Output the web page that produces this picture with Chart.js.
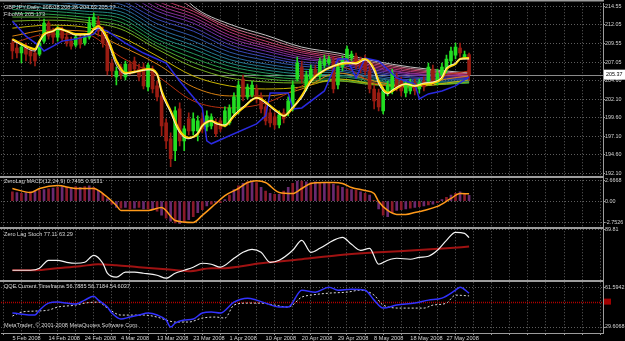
<!DOCTYPE html>
<html>
<head>
<meta charset="utf-8">
<script src="https://cdn.jsdelivr.net/npm/chart.js@4.4.0/dist/chart.umd.min.js"></script>
<style>
  html, body { margin: 0; padding: 0; background: #000; }
</style>
</head>
<body>
<canvas id="chart" width="625" height="341"></canvas>
<script>
// GBPJPY daily bars, 5 Feb 2008 .. 2 Jun 2008 (broker has Sunday bars, 8 bars per date label)
const dateLabels = ["5 Feb 2008", "14 Feb 2008", "24 Feb 2008", "4 Mar 2008", "13 Mar 2008", "23 Mar 2008",
  "1 Apr 2008", "10 Apr 2008", "20 Apr 2008", "29 Apr 2008", "8 May 2008", "18 May 2008", "27 May 2008"];
const priceTicks = [214.55, 212.05, 209.55, 207.05, 204.60, 202.10, 199.60, 197.10, 194.60, 192.10];
const macdTicks = [2.6668, 0, -2.7526];
const stochTicks = [89.81];
const qqeTicks = [61.5942, 29.6068];
const qqeLevel = 50;

const paneTitles = ["GBPJPY,Daily  208.08 208.26 204.63 205.37", "FiboMA 205.173",
  "ZeroLag MACD(12,24,9) 0.7495 0.9531", "Zero Lag Stoch 77.11 63.29",
  "QQE Current Timeframe 56.7885 56.7184 54.6037"];
const copyright = "MetaTrader, \u00a9 2001-2008 MetaQuotes Software Corp.";

const opens = [209.60, 208.94, 208.27, 209.07, 208.54, 208.27, 208.13, 209.87, 212.28, 211.21,
  210.41, 211.48, 210.41, 209.87, 209.34, 210.41, 209.60, 210.41, 211.88, 212.55,
  211.21, 210.14, 206.93, 205.06, 206.40, 205.06, 206.80, 207.20, 206.13, 206.40,
  203.72, 206.13, 203.86, 202.52, 198.91, 196.77, 195.17, 200.78, 196.50, 199.44,
  197.84, 197.84, 199.44, 198.37, 198.51, 198.91, 199.18, 198.64, 198.91, 200.25,
  200.51, 204.79, 202.39, 202.65, 203.45, 202.39, 201.05, 200.25, 199.71, 198.64,
  200.25, 200.25, 200.78, 204.79, 206.40, 203.45, 204.79, 206.13, 205.19, 206.66,
  206.93, 207.20, 203.99, 206.40, 207.47, 207.60, 207.87, 207.20, 207.47, 205.86,
  203.45, 202.92, 200.51, 202.92, 203.19, 205.06, 204.52, 202.92, 203.19, 204.26,
  203.45, 204.52, 204.52, 206.13, 204.52, 205.33, 206.13, 207.20, 208.00, 208.94,
  207.73, 208.08];
const highs = [210.14, 209.47, 209.34, 209.60, 209.07, 208.80, 209.87, 212.81, 212.55, 211.61,
  211.88, 211.74, 210.94, 210.41, 210.67, 210.81, 210.81, 213.08, 213.62, 213.21,
  211.74, 210.81, 207.47, 206.40, 206.80, 207.20, 207.20, 207.73, 206.80, 206.93,
  206.93, 206.53, 204.52, 203.19, 199.44, 197.57, 201.05, 201.58, 198.51, 200.25,
  200.25, 199.84, 200.25, 200.51, 200.11, 199.44, 199.58, 201.05, 201.31, 202.92,
  204.52, 205.33, 204.12, 204.52, 203.99, 202.92, 201.58, 200.78, 200.25, 200.51,
  200.78, 202.39, 204.52, 207.73, 207.20, 205.86, 206.66, 206.66, 207.60, 208.00,
  207.87, 207.73, 206.93, 207.87, 209.20, 208.54, 208.27, 207.73, 208.00, 206.53,
  203.99, 203.45, 203.72, 204.52, 206.13, 205.59, 205.06, 204.52, 204.79, 204.79,
  204.79, 205.06, 206.93, 206.66, 206.13, 206.93, 208.00, 209.07, 209.60, 209.60,
  208.54, 208.26];
const lows = [207.47, 207.60, 206.93, 207.20, 206.80, 206.53, 207.87, 209.60, 210.14, 209.60,
  209.87, 209.87, 209.20, 208.80, 209.07, 208.94, 209.34, 210.14, 211.48, 210.54,
  209.07, 205.33, 205.06, 203.99, 204.79, 204.66, 205.33, 205.59, 204.52, 203.45,
  203.19, 202.92, 201.85, 197.17, 195.43, 193.03, 193.83, 195.83, 195.17, 197.30,
  197.30, 196.50, 197.57, 197.84, 198.11, 197.04, 197.71, 198.37, 198.64, 199.84,
  200.11, 201.85, 202.12, 202.39, 201.58, 200.25, 198.64, 198.37, 198.11, 198.24,
  198.91, 199.84, 200.51, 204.52, 204.26, 203.19, 204.52, 204.79, 204.79, 206.26,
  206.66, 202.92, 203.45, 205.86, 207.20, 207.20, 206.13, 205.59, 205.33, 202.92,
  200.78, 200.51, 200.11, 202.52, 202.79, 203.19, 202.52, 202.39, 202.79, 202.65,
  202.92, 203.19, 203.99, 203.99, 203.99, 204.79, 205.59, 206.66, 207.47, 207.73,
  207.47, 204.63];
const closes = [208.54, 208.27, 209.07, 208.13, 207.87, 207.20, 209.60, 212.28, 210.54, 210.41,
  211.48, 210.27, 209.60, 209.20, 210.41, 209.47, 210.41, 212.28, 213.08, 211.21,
  209.60, 205.86, 205.86, 205.86, 205.33, 206.80, 205.86, 206.13, 205.06, 203.86,
  206.66, 203.45, 202.39, 198.51, 196.50, 194.10, 200.51, 196.50, 198.11, 197.84,
  199.44, 199.18, 198.11, 199.84, 199.71, 197.44, 198.11, 200.51, 200.91, 202.39,
  203.99, 202.39, 203.72, 203.99, 202.12, 200.78, 199.18, 198.91, 198.64, 199.98,
  199.44, 201.85, 203.99, 206.93, 204.79, 205.33, 206.13, 205.19, 207.20, 207.47,
  207.47, 203.45, 206.40, 207.47, 208.80, 208.13, 206.66, 206.13, 205.86, 203.45,
  201.85, 201.05, 203.19, 203.99, 205.59, 203.72, 203.19, 203.99, 204.26, 203.19,
  204.26, 203.72, 206.40, 204.52, 205.59, 206.40, 207.47, 208.54, 209.07, 208.27,
  208.08, 205.37];

// Fibo MA ribbon, read every 8 bars (slowest first)
const ribbonIdx = [0, 8, 16, 24, 32, 40, 48, 56, 64, 72, 80, 88, 96, 101];
const fibo1 = [225.92, 224.58, 223.24, 221.91, 219.90, 214.55, 212.15, 210.67, 209.07, 208.27, 207.20, 206.40, 205.86, 205.59];
const fibo1a = [224.60, 223.20, 222.00, 220.90, 217.90, 214.20, 211.80, 210.30, 208.80, 208.00, 207.00, 206.20, 205.70, 205.50];
const fibo2 = [223.24, 221.91, 220.84, 219.90, 215.89, 213.88, 211.48, 209.87, 208.54, 207.73, 206.80, 206.00, 205.59, 205.46];
const fibo2a = [222.20, 220.90, 219.90, 219.00, 215.30, 213.50, 211.10, 209.50, 208.30, 207.50, 206.60, 205.80, 205.50, 205.30];
const fibo3 = [221.24, 219.90, 218.96, 218.16, 214.82, 213.08, 210.67, 209.20, 208.00, 207.33, 206.40, 205.59, 205.33, 205.19];
const fibo3a = [220.20, 219.00, 218.20, 217.40, 214.30, 212.70, 210.30, 208.90, 207.70, 207.10, 206.20, 205.50, 205.20, 205.10];
const fibo4 = [219.23, 218.16, 217.36, 216.56, 213.88, 212.28, 209.87, 208.54, 207.47, 206.93, 206.00, 205.33, 205.06, 204.93];
const fibo4a = [218.20, 217.40, 216.60, 215.90, 213.30, 211.70, 209.40, 208.10, 207.10, 206.70, 205.80, 205.10, 204.90, 204.90];
const fibo5 = [217.23, 216.56, 215.89, 215.22, 212.81, 211.21, 208.94, 207.73, 206.80, 206.40, 205.59, 204.93, 204.79, 204.79];
const fibo5a = [216.40, 215.90, 215.30, 214.80, 212.20, 210.50, 208.40, 207.30, 206.50, 206.10, 205.30, 204.70, 204.70, 204.70];
const fibo6 = [215.62, 215.22, 214.69, 214.28, 211.61, 209.87, 207.87, 206.80, 206.13, 205.86, 205.06, 204.52, 204.52, 204.52];
const fibo6a = [215.10, 214.80, 214.30, 213.80, 211.10, 209.30, 207.40, 206.40, 205.80, 205.60, 204.90, 204.40, 204.40, 204.50];
const fibo7 = [214.55, 214.28, 213.88, 213.35, 210.54, 208.80, 206.93, 206.00, 205.46, 205.33, 204.66, 204.26, 204.26, 204.39];
const fibo7a = [214.10, 213.90, 213.50, 212.90, 210.10, 208.20, 206.50, 205.60, 205.10, 205.10, 204.50, 204.10, 204.20, 204.30];
const fibo8 = [213.62, 213.48, 213.08, 212.41, 209.60, 207.60, 206.00, 205.19, 204.79, 204.79, 204.26, 203.99, 204.12, 204.26];
const fibo8a = [213.10, 213.10, 212.70, 211.90, 209.20, 207.00, 205.50, 204.80, 204.50, 204.60, 204.10, 203.90, 204.10, 204.30];
const fibo9 = [212.55, 212.68, 212.41, 211.48, 208.80, 206.40, 204.93, 204.39, 204.26, 204.52, 203.99, 203.86, 204.12, 204.39];
const fibo10 = [211.61, 212.01, 211.74, 210.41, 207.87, 205.19, 203.86, 203.45, 203.72, 204.79, 204.12, 203.72, 204.26, 204.66];
const fibo11 = [210.54, 211.34, 211.21, 209.20, 206.80, 203.72, 202.52, 202.52, 203.45, 205.59, 204.52, 203.72, 204.79, 205.19];
const fibo12 = [209.60, 210.81, 210.81, 207.73, 205.19, 201.85, 200.91, 201.58, 203.86, 206.53, 204.26, 203.59, 205.33, 205.86];

// fast averages on the price pane
const fastIdx = [0, 2, 4, 5, 6, 7, 9, 10, 12, 14, 17, 18, 19, 21, 23, 25, 28, 30, 32, 33,
  35, 37, 39, 41, 42, 44, 45, 47, 49, 51, 54, 55, 57, 59, 60, 62, 64, 66, 68, 71,
  74, 76, 78, 80, 81, 83, 84, 87, 89, 91, 93, 95, 96, 98, 99, 101];
const yellowMa = [210.14, 209.47, 208.94, 208.80, 209.87, 210.81, 211.21, 211.61, 211.21, 210.81,
  210.81, 211.48, 211.88, 210.27, 207.20, 205.59, 205.86, 206.13, 205.46, 203.19,
  200.51, 197.84, 196.90, 197.44, 198.51, 199.18, 198.91, 198.51, 199.84, 200.91,
  202.25, 202.12, 201.18, 200.25, 199.84, 200.91, 202.52, 204.52, 205.59, 206.53,
  206.93, 206.93, 207.47, 206.13, 204.52, 202.92, 203.19, 204.12, 203.86, 204.12,
  204.26, 204.93, 206.13, 206.80, 207.47, 207.60];
const whiteMa = [210.01, 209.34, 208.67, 208.54, 209.74, 210.67, 211.21, 211.48, 211.21, 210.67,
  210.81, 211.34, 211.61, 209.87, 206.66, 205.46, 205.86, 206.00, 205.33, 202.92,
  200.25, 197.57, 196.77, 197.57, 198.51, 199.18, 198.78, 198.64, 199.98, 201.05,
  202.25, 201.98, 201.05, 200.11, 199.84, 201.05, 202.25, 204.39, 205.59, 206.53,
  207.07, 206.80, 207.33, 205.86, 204.12, 202.79, 203.32, 204.12, 203.86, 204.26,
  204.39, 205.06, 206.26, 206.93, 207.47, 207.47];
const blueIdx = [0, 3, 6, 7, 9, 11, 14, 18, 19, 21, 25, 29, 34, 37, 42, 43, 44, 48, 54, 56,
  57, 61, 62, 64, 69, 72, 74, 76, 78, 81, 85, 89, 90, 92, 95, 98, 101];
const blueMa = [212.55, 210.54, 209.20, 208.54, 209.20, 209.87, 210.14, 210.81, 211.61, 211.21,
  209.60, 208.27, 206.93, 204.52, 200.91, 196.50, 196.10, 197.17, 198.77, 199.84,
  202.92, 202.92, 200.78, 200.91, 203.19, 207.47, 207.47, 204.93, 207.60, 207.20,
  204.93, 204.12, 202.12, 202.79, 203.19, 203.86, 205.06];

// ZeroLag MACD
const macdHist = [1.2, 1.1, 1.0, 1.1, 1.2, 1.3, 1.4, 1.5, 1.6, 1.7,
  1.8, 1.9, 1.8, 1.8, 1.9, 1.8, 1.9, 2.0, 1.8, 1.4,
  1.0, 0.3, -0.4, -0.8, -0.9, -0.8, -1.0, -0.9, -0.8, -1.0,
  -1.0, -1.1, -1.3, -1.8, -2.2, -2.6, -2.8, -2.9, -2.7, -2.4,
  -2.0, -1.5, -1.1, -0.6, -0.4, -0.2, -0.2, 0.2, 0.8, 1.5,
  2.0, 2.3, 2.5, 2.6, 2.4, 1.8, 1.3, 1.0, 0.9, 0.9,
  1.3, 1.8, 2.3, 2.6, 2.6, 2.5, 2.4, 2.5, 2.4, 2.3,
  2.4, 2.2, 2.0, 1.8, 1.6, 1.5, 1.4, 1.2, 1.0, 0.8,
  0.1, -1.0, -1.8, -2.0, -1.5, -1.2, -1.1, -1.0, -0.9, -0.8,
  -0.7, -0.6, -0.5, -0.4, -0.2, 0.2, 0.5, 0.8, 1.0, 1.2,
  1.0, 0.75];
const signalIdx = [0, 4, 6, 10, 14, 18, 20, 23, 24, 30, 33, 36, 40, 42, 45, 47, 50, 52, 54, 56,
  59, 62, 64, 66, 69, 71, 73, 75, 78, 80, 81, 83, 85, 87, 89, 91, 94, 97, 99, 101];
const macdSignal = [1.64, 1.12, 1.64, 2.02, 1.64, 1.64, 0.99, -0.55, -1.20, -1.20,
  -0.81, -2.49, -2.75, -1.84, -0.30, 0.73, 1.64, 2.41, 2.65, 2.41,
  1.12, 0.99, 1.64, 2.28, 2.41, 2.41, 2.28, 1.77, 1.38, 0.99,
  -0.04, -1.20, -1.71, -1.71, -1.46, -1.20, -0.68, 0.35, 0.99, 0.95];

// Zero Lag Stoch
const stochIdx = [0, 4, 6, 8, 10, 12, 14, 16, 18, 20, 21, 23, 25, 27, 29, 32, 34, 36, 38, 40,
  42, 44, 46, 49, 51, 53, 55, 57, 59, 62, 64, 66, 68, 71, 73, 75, 77, 79, 81, 83,
  85, 88, 90, 92, 94, 96, 98, 100, 101];
const stochMain = [26.7, 26.7, 29.8, 42.1, 42.1, 39.0, 37.5, 39.0, 49.8, 37.5, 22.1, 16.0, 23.7, 23.7, 22.1, 19.0, 14.4, 22.1, 26.7, 31.4,
  37.5, 36.0, 31.4, 45.2, 54.4, 59.0, 54.4, 39.0, 42.1, 57.5, 72.9, 54.4, 60.6, 72.9, 77.5, 66.7, 57.5, 60.6, 36.0, 42.1,
  45.2, 43.7, 46.7, 48.3, 57.5, 72.9, 85.2, 83.7, 77.11];
const stochSigIdx = [0, 5, 10, 15, 19, 23, 28, 34, 39, 44, 46, 55, 64, 72, 81, 89, 96, 101];
const stochSignal = [26.7, 26.7, 29.8, 32.9, 36.0, 34.4, 31.4, 28.3, 25.2, 29.8, 29.8, 37.5, 43.7, 49.8, 54.4, 57.5, 60.6, 63.29];

// QQE
const qqeIdx = [0, 5, 6, 8, 10, 12, 14, 16, 18, 19, 21, 22, 24, 26, 28, 30, 32, 34, 35, 36,
  38, 40, 42, 44, 46, 49, 52, 54, 56, 59, 61, 64, 67, 70, 72, 75, 78, 80, 82, 85,
  89, 92, 95, 98, 99, 101];
const qqeRsi = [40.8, 39.2, 43.2, 48.8, 49.6, 48.8, 48.0, 51.2, 54.4, 51.2, 45.6, 40.8, 36.0, 37.6, 39.2, 40.8, 39.2, 35.2, 29.6, 32.8,
  35.2, 36.0, 40.8, 41.6, 40.8, 49.6, 52.8, 51.2, 48.8, 45.6, 45.6, 59.2, 57.6, 61.6, 59.2, 60.0, 59.2, 51.2, 44.8, 47.2,
  48.8, 51.2, 52.8, 59.2, 61.59, 56.79];
const qqeTrailIdx = [0, 2, 5, 8, 10, 14, 16, 19, 21, 24, 27, 29, 32, 34, 36, 39, 42, 45, 47, 49,
  52, 55, 58, 61, 64, 66, 70, 74, 77, 80, 82, 86, 91, 93, 96, 98, 101];
const qqeTrail = [38.4, 41.6, 42.4, 43.2, 45.6, 47.2, 48.8, 49.6, 44.8, 39.2, 39.2, 39.2, 37.6, 35.2, 33.6, 33.6, 36.8, 37.6, 36.8, 47.2,
  48.8, 48.8, 47.2, 45.6, 53.6, 55.2, 56.8, 57.6, 59.2, 55.2, 47.2, 44.8, 44.8, 47.2, 48.8, 55.2, 54.60];

// ---------------------------------------------------------------
const UP = "#22dd22";
const DOWN = "#9a1c12";
const GRID = "#5e5e5e";
const TEXT = "#d4d4d4";
const FRAME = "#9c9c9c";

Chart.defaults.font.family = '"Liberation Sans", Arial, sans-serif';
Chart.defaults.font.size = 5.6;
Chart.defaults.color = TEXT;

const pts = (idx, vals) => idx.map((x, k) => ({ x: x, y: vals[k] }));
const candleColor = closes.map((c, i) => (c >= opens[i] ? UP : DOWN));

function line(data, color, width, yAxisID, order, extra) {
  return Object.assign({
    type: "line", data: data, borderColor: color, borderWidth: width,
    pointRadius: 0, fill: false, yAxisID: yAxisID, order: order,
    cubicInterpolationMode: "monotone"
  }, extra || {});
}

const ribbon = [
  [fibo1, "#c4c4c4"], [fibo1a, "#c87a90"], [fibo2, "#c8406a"], [fibo2a, "#b43878"],
  [fibo3, "#a0308a"], [fibo3a, "#883098"], [fibo4, "#7030a8"], [fibo4a, "#5040b0"],
  [fibo5, "#3848b8"], [fibo5a, "#3058a8"], [fibo6, "#2a6aa0"], [fibo6a, "#257a90"],
  [fibo7, "#208a80"], [fibo7a, "#249560"], [fibo8, "#28a048"], [fibo8a, "#50a834"],
  [fibo9, "#78b020"], [fibo10, "#c8b400"], [fibo11, "#d88010"], [fibo12, "#b83010"]
];

const datasets = [];
ribbon.forEach(([vals, color], k) => {
  datasets.push(line(pts(ribbonIdx, vals), color, 1, "y", 60 - k));
});
datasets.push({
  type: "bar", data: closes.map((c, i) => ({ x: i, y: [lows[i], highs[i]] })),
  backgroundColor: candleColor, barThickness: 1, grouped: false, yAxisID: "y", order: 12
});
datasets.push({
  type: "bar", data: closes.map((c, i) => ({ x: i, y: [Math.min(opens[i], c), Math.max(opens[i], c)] })),
  backgroundColor: candleColor, barThickness: 3, minBarLength: 1, grouped: false, yAxisID: "y", order: 11
});
datasets.push(line(pts(blueIdx, blueMa), "#2a2ae0", 1.5, "y", 5, { cubicInterpolationMode: "default", tension: 0 }));
datasets.push(line(pts(fastIdx, yellowMa), "#ffd400", 2.2, "y", 4));
datasets.push(line(pts(fastIdx, whiteMa), "#ffffff", 0.8, "y", 3));

datasets.push({
  type: "bar", data: macdHist.map((v, i) => ({ x: i, y: v })),
  backgroundColor: macdHist.map((v, i) => (i % 2 ? "#6a2a70" : "#8a1a2a")),
  barThickness: 2, grouped: false, yAxisID: "macd", order: 10
});
datasets.push(line(pts(signalIdx, macdSignal), "#ff9a1a", 1.5, "macd", 2));

datasets.push(line(pts(stochSigIdx, stochSignal), "#a01212", 2, "stoch", 3));
datasets.push(line(pts(stochIdx, stochMain), "#f4f4f4", 1.2, "stoch", 2));

datasets.push(line(pts(qqeTrailIdx, qqeTrail), "#dcdcdc", 1, "qqe", 3, { borderDash: [2, 2] }));
datasets.push(line(pts(qqeIdx, qqeRsi), "#3232ff", 1.5, "qqe", 2));

function fixedTicks(values) {
  return (scale) => { scale.ticks = values.map((v) => ({ value: v })); };
}

function paneAxis(weight, min, max, values, fmt) {
  return {
    type: "linear", position: "right", stack: "panes", stackWeight: weight,
    min: min, max: max,
    afterBuildTicks: fixedTicks(values),
    afterFit: (scale) => { scale.width = 22; },
    ticks: { autoSkip: false, padding: 0, color: TEXT, font: { size: 5.4 }, callback: fmt },
    grid: { color: GRID, tickLength: 2, tickColor: FRAME },
    border: { color: FRAME, dash: [1, 2] }
  };
}

// panel titles, separators, last price box
const paneDecor = {
  id: "paneDecor",
  beforeDatasetsDraw(chart) {
    const { ctx, chartArea, scales } = chart;
    ctx.save();
    const yLast = Math.round(scales.y.getPixelForValue(closes[closes.length - 1])) + 0.5;
    ctx.strokeStyle = "#8a8a8a";
    ctx.lineWidth = 1;
    ctx.beginPath();
    ctx.moveTo(chartArea.left, yLast);
    ctx.lineTo(chartArea.right, yLast);
    ctx.stroke();

    const yLevel = Math.round(scales.qqe.getPixelForValue(qqeLevel)) + 0.5;
    ctx.strokeStyle = "#b00000";
    ctx.lineWidth = 1.5;
    ctx.setLineDash([1, 1]);
    ctx.beginPath();
    ctx.moveTo(chartArea.left, yLevel);
    ctx.lineTo(chartArea.right, yLevel);
    ctx.stroke();
    ctx.restore();
  },
  afterDraw(chart) {
    const { ctx, chartArea, scales } = chart;
    const right = chartArea.right;
    ctx.save();
    ctx.fillStyle = FRAME;
    ctx.fillRect(0, 0, right + 1, 1.5);
    [scales.y.bottom, scales.macd.bottom, scales.stoch.bottom].forEach((b) => {
      ctx.fillRect(0, Math.round(b) - 1, right + 1, 2);
    });

    // last price label
    const yLast = scales.y.getPixelForValue(closes[closes.length - 1]);
    ctx.fillStyle = "#ffffff";
    ctx.fillRect(right + 1, yLast - 5, 625 - right, 10);
    ctx.fillStyle = "#000000";
    ctx.font = '5.4px "Liberation Sans", Arial, sans-serif';
    ctx.textBaseline = "middle";
    ctx.fillText(closes[closes.length - 1].toFixed(2), right + 3, yLast);

    // level marker on QQE scale
    const yLevel = scales.qqe.getPixelForValue(qqeLevel);
    ctx.fillStyle = "#a00000";
    ctx.fillRect(right + 1, yLevel - 3, 7, 6);

    ctx.font = '5.6px "Liberation Sans", Arial, sans-serif';
    ctx.fillStyle = TEXT;
    ctx.textBaseline = "top";
    ctx.fillText(paneTitles[0], 4, scales.y.top + 1);
    ctx.fillText(paneTitles[1], 4, scales.y.top + 8);
    ctx.fillText(paneTitles[2], 4, scales.macd.top + 2);
    ctx.fillText(paneTitles[3], 4, scales.stoch.top + 3);
    ctx.fillText(paneTitles[4], 4, scales.qqe.top + 2);
    ctx.fillText(copyright, 4, scales.qqe.bottom - 10);
    ctx.restore();
  }
};

new Chart(document.getElementById("chart"), {
  type: "bar",
  data: { datasets: datasets },
  plugins: [paneDecor],
  options: {
    responsive: false,
    animation: false,
    events: [],
    layout: { padding: { left: 1, top: 2, right: 0, bottom: 0 } },
    plugins: { legend: { display: false }, tooltip: { enabled: false } },
    scales: {
      x: {
        type: "linear", position: "bottom", min: -0.5, max: 128.6,
        afterBuildTicks: (scale) => {
          const t = [];
          for (let v = 0; v <= 128; v += 4) t.push({ value: v });
          scale.ticks = t;
        },
        afterFit: (scale) => { scale.height = 8; },
        ticks: {
          autoSkip: false, maxRotation: 0, align: "start", padding: 0, color: TEXT,
          callback: (v) => (v % 8 === 0 && dateLabels[v / 8]) || ""
        },
        grid: { color: GRID, tickLength: 2, tickColor: FRAME },
        border: { color: FRAME, dash: [1, 2] }
      },
      y: paneAxis(174, 191.70, 214.95, priceTicks, (v) => v.toFixed(2)),
      macd: paneAxis(52, -3.52, 3.18, macdTicks, (v) => (v === 0 ? "0.00" : v.toFixed(4))),
      stoch: paneAxis(53, 9.8, 91.35, stochTicks, (v) => v.toFixed(2)),
      qqe: paneAxis(52, 24.8, 66.4, qqeTicks, (v) => v.toFixed(4))
    }
  }
});
</script>
</body>
</html>
